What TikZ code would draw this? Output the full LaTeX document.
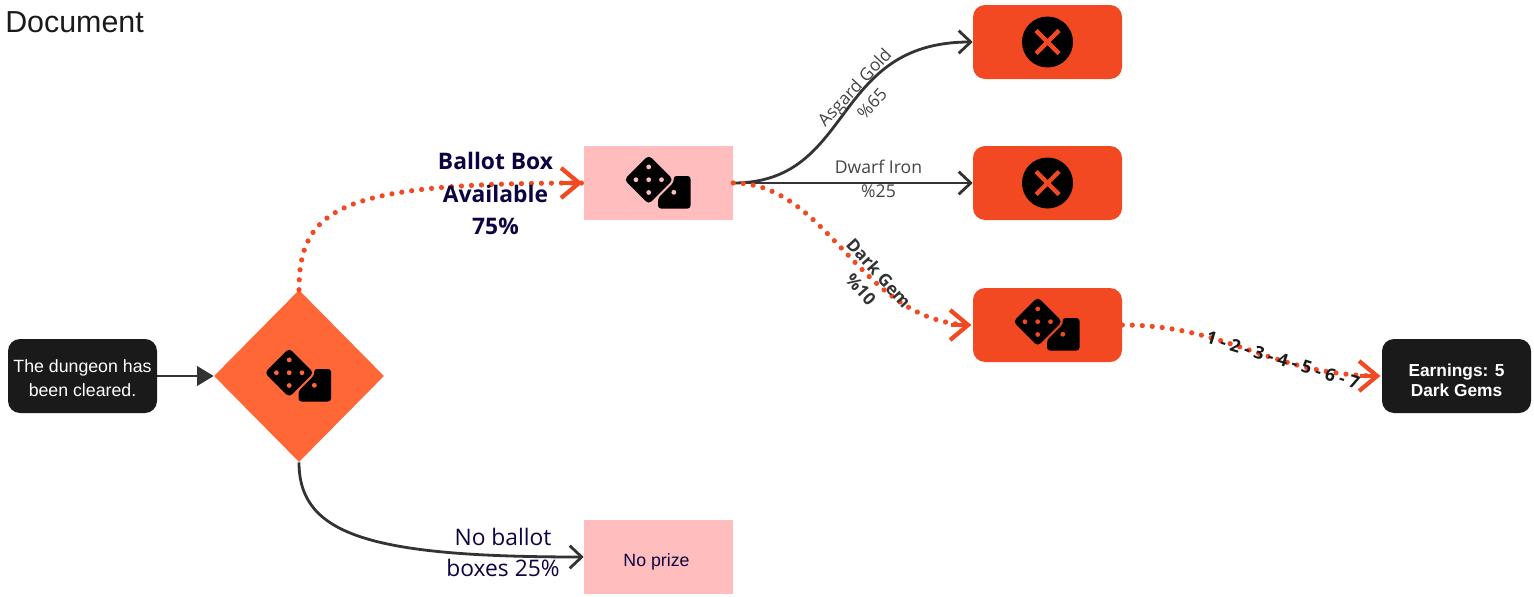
\documentclass[tikz,border=0pt]{standalone}
\usepackage{fontspec}
\setmainfont{Liberation Sans}
\newfontfamily\osans{Open Sans}
\usetikzlibrary{arrows.meta,shapes.geometric}
\definecolor{cOrange}{HTML}{F34923}
\definecolor{cDiamond}{HTML}{FF6737}
\definecolor{cPink}{HTML}{FFBDBD}
\definecolor{cBlack}{HTML}{1A1A1A}
\definecolor{cLine}{HTML}{333333}
\definecolor{cNavy}{HTML}{0C0440}
\definecolor{cLabel}{HTML}{444444}
\tikzset{
  box/.style={rectangle,inner sep=0pt,minimum width=111.75pt,minimum height=55.5pt,align=center},
  darkbox/.style={box,fill=cBlack,rounded corners=9pt,text=white},
  redbox/.style={box,fill=cOrange,rounded corners=9pt},
  pinkbox/.style={box,fill=cPink,text=cNavy},
  decision/.style={diamond,fill=cDiamond,inner sep=0pt,minimum width=127.5pt,minimum height=129pt,shape aspect=1},
  plainedge/.style={draw=cLine,line width=2.1pt,-{Straight Barb[length=9pt,width=17pt,line width=2.1pt]}},
  dotedge/.style={draw=cOrange,line width=3.9pt,line cap=round,dash pattern=on 0pt off 7.5pt},
  chevron/.style={draw=cOrange,line width=3.2pt,-{Straight Barb[length=13.5pt,width=22.5pt,line width=3.2pt]}},
  pics/dicepic/.style={code={
    \fill[black,rounded corners=3pt] (-9.8,-27.8) -- (14.7,-3.3) -- (-9.8,21.2) -- (-34.3,-3.3) -- cycle;
    \fill[black,rounded corners=2.2pt] (15,-7) -- (32,-7) -- (32,25.5) -- (-0.5,25.5) -- (-0.5,15) -- (15.5,-1) -- cycle;
    \foreach \dx/\dy in {0/0,12.8/0,-12.8/0,0/12.8,0/-12.8}
      \fill[#1] (-9.8+\dx,-3.3+\dy) circle[radius=2.4];
    \fill[#1] (15.3,9.3) circle[radius=2.4];
  }},
  pics/crosspic/.style={code={
    \fill[black] (0,0) circle[radius=25.5];
    \draw[cOrange,line width=3.2pt] (-11.5,-11.5) -- (11.5,11.5) (-11.5,11.5) -- (11.5,-11.5);
  }}
}
\begin{document}
\begin{tikzpicture}[x=0.75pt,y=-0.75pt]
\useasboundingbox (0,0) rectangle (1534,596);
\node[anchor=west,text=cBlack,inner sep=0pt,font=\fontsize{22.8}{26}\selectfont] (title) at (5,22) {Document};
\node[darkbox,font=\fontsize{13.3}{18}\selectfont] (start) at (82.5,376) {\rule{0pt}{12.5pt}The dungeon has\\been cleared.};
\node[decision] (dec) at (299,376) {};
\node[pinkbox] (ballot) at (658.5,183) {};
\node[pinkbox,font=\fontsize{13.3}{16}\selectfont] (noprize) at (658.5,557) {\hspace*{-3pt}\rule{0pt}{17pt}No prize};
\node[redbox] (gold) at (1047.5,42) {};
\node[redbox] (iron) at (1047.5,183) {};
\node[redbox] (gem) at (1047.5,325) {};
\node[darkbox,font=\fontsize{13}{15}\selectfont\bfseries] (earn) at (1456.5,376) {\rule{0pt}{15.5pt}Earnings: 5\\Dark Gems};
\pic at (dec.center) {dicepic=cDiamond};
\pic at (ballot.center) {dicepic=cPink};
\pic at (gem.center) {dicepic=cOrange};
\pic at (gold.center) {crosspic};
\pic at (iron.center) {crosspic};
% plain connectors
\draw[draw=cLine,line width=2.1pt,-{Triangle[length=12.5pt,width=14.5pt]}] (start.east) -- (dec.west);
\draw[plainedge] (dec.south) .. controls (299,535) and (370,557) .. (noprize.west);
\draw[plainedge] (ballot.east) .. controls (855,183) and (830,42) .. (gold.west);
\draw[plainedge] (ballot.east) -- (iron.west);
% dotted connectors
\draw[dotedge] (dec.north) .. controls (299,205) and (345,183) .. (ballot.west);
\draw[dotedge] (ballot.east) .. controls (830,183) and (860,325) .. (gem.west);
\draw[dotedge] (gem.east) .. controls (1230,325) and (1270,376) .. (earn.west);
% chevrons
\draw[chevron] ([xshift=-16]ballot.west) -- ([xshift=-1]ballot.west);
\draw[chevron] ([xshift=-16]gem.west) -- ([xshift=-1]gem.west);
\draw[chevron] ([xshift=-16]earn.west) -- ([xshift=-1]earn.west);
% labels
\node[align=center,text=cNavy,inner sep=0pt,font=\osans\bfseries\fontsize{17.1}{24.3}\selectfont] (l1) at (495.5,193.5) {Ballot Box\\Available\\75\%};
\node[align=center,text=cNavy,inner sep=0pt,font=\osans\fontsize{17.1}{23.3}\selectfont] (l2) at (503,552) {No ballot\\boxes 25\%};
\node[align=center,text=cLabel,inner sep=0pt,font=\osans\fontsize{13.2}{18}\selectfont] (l3) at (878.5,179) {Dwarf Iron\\\%25};
\node[align=center,text=cLabel,inner sep=0pt,font=\osans\fontsize{13}{18}\selectfont,rotate=47] (l4) at (863,95) {Asgard Gold\\\%65};
\node[align=center,text=cLine,inner sep=0pt,font=\osans\bfseries\fontsize{13}{18}\selectfont,rotate=-48] (l5) at (870,281) {Dark Gem\\\%10};
\node[text=cBlack,inner sep=0pt,font=\osans\bfseries\fontsize{13.2}{15}\selectfont,rotate=-17] (l6) at (1283,360) {1 - 2 - 3 - 4 - 5 - 6 - 7};
\end{tikzpicture}
\end{document}
